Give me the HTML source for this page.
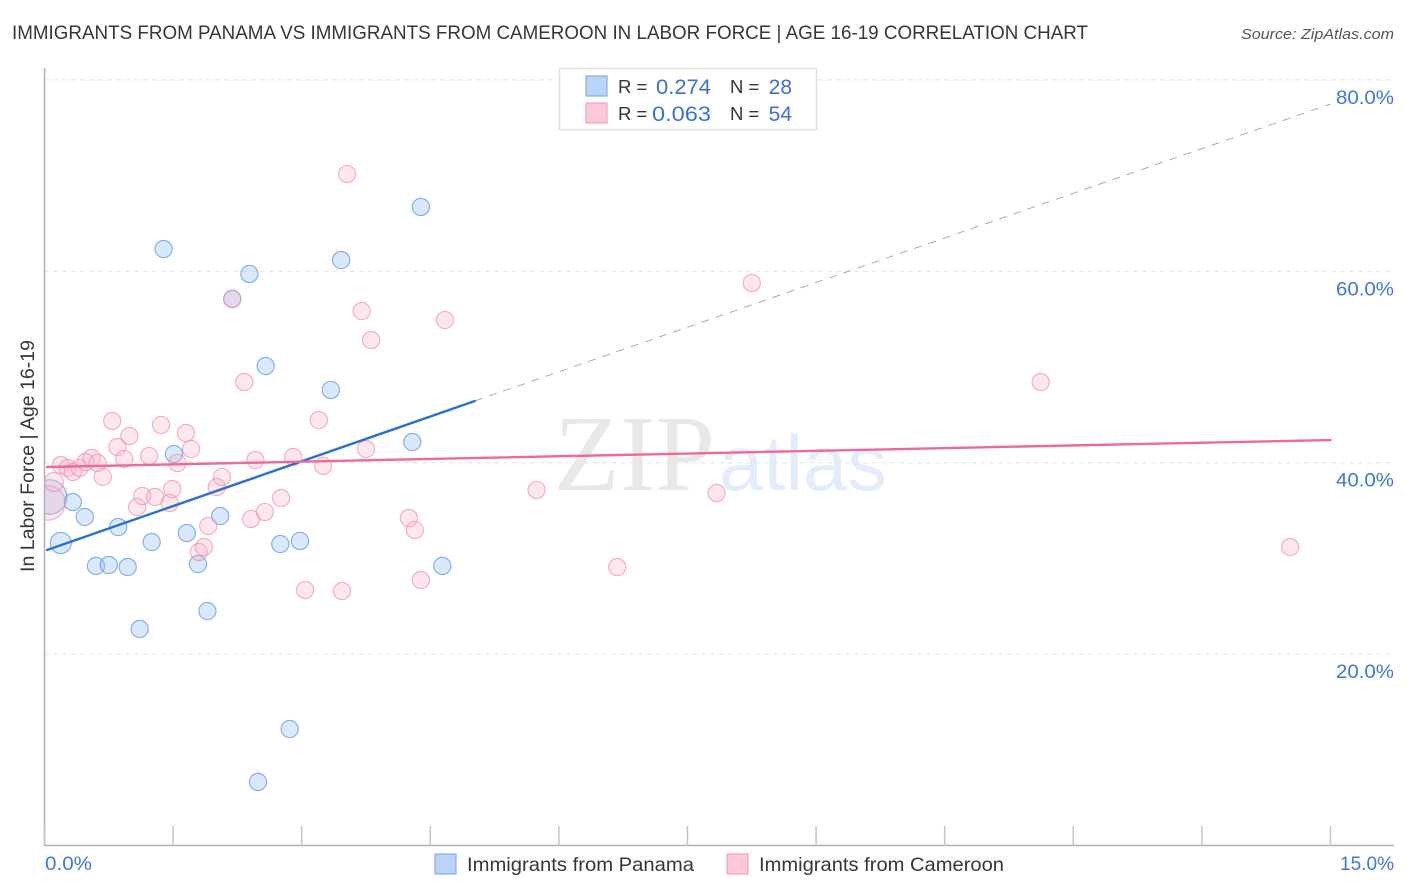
<!DOCTYPE html>
<html>
<head>
<meta charset="utf-8">
<style>
html,body{margin:0;padding:0;background:#fff;}
svg{display:block;font-family:"Liberation Sans",sans-serif;}
</style>
</head>
<body>
<svg id="chart" width="1406" height="892" viewBox="0 0 1406 892" xmlns="http://www.w3.org/2000/svg">
<defs><clipPath id="plotClip"><rect x="45" y="60" width="1349" height="786"/></clipPath></defs>
<text x="12" y="39" font-size="19.5" fill="#33373d" textLength="1076" lengthAdjust="spacingAndGlyphs">IMMIGRANTS FROM PANAMA VS IMMIGRANTS FROM CAMEROON IN LABOR FORCE | AGE 16-19 CORRELATION CHART</text>
<text x="1394" y="39" font-size="15" font-style="italic" fill="#555" text-anchor="end" textLength="153" lengthAdjust="spacingAndGlyphs">Source: ZipAtlas.com</text>
<g>
<text x="554" y="490" font-family="'Liberation Serif',serif" font-size="108" fill="#e8e8e8" textLength="161" lengthAdjust="spacingAndGlyphs">ZIP</text>
<text x="719" y="490" font-family="'Liberation Sans',sans-serif" font-size="78" fill="#e2ecfa" textLength="168" lengthAdjust="spacingAndGlyphs">atlas</text>
</g>
<g id="grid"></g>
<g id="axes"></g>
<g id="points" clip-path="url(#plotClip)"></g>
<g id="trends"></g>
<text transform="translate(34,456) rotate(-90)" font-size="19.5" fill="#33373d" text-anchor="middle" textLength="232" lengthAdjust="spacingAndGlyphs">In Labor Force | Age 16-19</text>
<g>
<rect x="559.5" y="68.5" width="257" height="61" fill="#fff" stroke="#e0e0e0" stroke-width="1.5"/>
<rect x="586" y="76" width="21" height="20" fill="#b8d4f7" stroke="#86aee5" stroke-width="1.2"/>
<rect x="586" y="103" width="21" height="20" fill="#fcc8d9" stroke="#f2a3bd" stroke-width="1.2"/>
<text x="618" y="93" font-size="18.5" fill="#33373d">R =</text>
<text x="711" y="94" font-size="21" fill="#3a72d2" text-anchor="end" textLength="55" lengthAdjust="spacingAndGlyphs">0.274</text>
<text x="730" y="93" font-size="18.5" fill="#33373d">N =</text>
<text x="792" y="94" font-size="21" fill="#3a72d2" text-anchor="end">28</text>
<text x="618" y="120" font-size="18.5" fill="#33373d">R =</text>
<text x="711" y="121" font-size="21" fill="#3a72d2" text-anchor="end" textLength="59" lengthAdjust="spacingAndGlyphs">0.063</text>
<text x="730" y="120" font-size="18.5" fill="#33373d">N =</text>
<text x="792" y="121" font-size="21" fill="#3a72d2" text-anchor="end">54</text>
</g>
<g>
<rect x="435" y="854" width="21" height="20" fill="#b8d4f7" stroke="#86aee5" stroke-width="1.2"/>
<text x="467" y="871" font-size="19.5" fill="#33373d" textLength="227" lengthAdjust="spacingAndGlyphs">Immigrants from Panama</text>
<rect x="727" y="854" width="21" height="20" fill="#fcc8d9" stroke="#f2a3bd" stroke-width="1.2"/>
<text x="759" y="871" font-size="19.5" fill="#33373d" textLength="245" lengthAdjust="spacingAndGlyphs">Immigrants from Cameroon</text>
</g>
</svg>
<script>
const yTicks = [20, 40, 60, 80];
const xTicks = [0, 1.5, 3, 4.5, 6, 7.5, 9, 10.5, 12, 13.5, 15];
const xLabels = ["0.0%", "15.0%"];

const panamaX = [0.06,0.19,0.33,0.47,0.60,0.75,0.97,0.86,1.11,1.25,1.39,1.51,1.66,1.79,1.90,2.05,2.19,2.39,2.49,2.58,2.75,2.86,2.98,3.34,3.46,4.29,4.39,4.64];
const panamaY = [36.42,31.61,35.89,34.33,29.21,29.31,29.10,33.28,22.62,31.71,62.33,40.91,32.65,29.41,24.50,34.43,57.11,59.72,6.64,50.10,31.50,12.17,31.82,47.60,61.18,42.16,66.72,29.21];
const panamaWeight = [4,1.5,1,1,1,1,1,1,1,1,1,1,1,1,1,1,1,1,1,1,1,1,1,1,1,1,1,1];

const cameroonX = [0.04,0.11,0.19,0.27,0.33,0.41,0.48,0.55,0.62,0.68,0.79,0.85,0.99,0.93,1.08,1.14,1.29,1.22,1.36,1.46,1.49,1.55,1.65,1.71,1.80,1.86,1.91,2.01,2.07,2.19,2.33,2.41,2.46,2.57,2.76,2.90,3.04,3.20,3.25,3.47,3.53,3.70,3.75,3.81,4.25,4.32,4.39,4.67,5.74,6.68,7.84,8.25,11.62,14.53];
const cameroonY = [35.79,37.98,39.76,39.45,39.03,39.45,40.07,40.49,39.97,38.51,44.36,41.64,42.79,40.39,35.37,36.52,36.42,40.70,43.94,35.79,37.25,39.97,43.10,41.43,30.67,31.19,33.39,37.46,38.51,57.11,48.43,34.12,40.28,34.85,36.31,40.60,26.70,44.46,39.66,26.59,70.17,55.85,41.43,52.82,34.22,32.97,27.74,54.91,37.15,29.10,36.83,58.78,48.43,31.19];
const cameroonWeight = [4,1.2,1,1,1,1,1,1,1,1,1,1,1,1,1,1,1,1,1,1,1,1,1,1,1,1,1,1,1,1,1,1,1,1,1,1,1,1,1,1,1,1,1,1,1,1,1,1,1,1,1,1,1,1];

const panamaTrendX = [0.03, 5.02, 15];
const panamaTrendY = [30.88, 46.45, 77.48];
const cameroonTrendX = [0.03, 15];
const cameroonTrendY = [39.55, 42.37];

const NS = 'http://www.w3.org/2000/svg';
const sx = v => 44.5 + v * 85.73;
const sy = v => 845.5 - v * 9.57;
const radius = w => 8.6 * Math.sqrt(w);

function make(parent, tag, attrs) {
  const el = document.createElementNS(NS, tag);
  for (const k in attrs) el.setAttribute(k, attrs[k]);
  parent.appendChild(el);
  return el;
}

const grid = document.getElementById('grid');
const axes = document.getElementById('axes');
const points = document.getElementById('points');
const trends = document.getElementById('trends');

yTicks.forEach(t => {
  const line = make(grid, 'line', {x1: 44, x2: 1394, y1: sy(t), y2: sy(t), stroke: '#e4e4e4', 'stroke-width': 1, 'stroke-dasharray': '5 4'});
  
  
  const label = make(axes, 'text', {x: 1394, y: sy(t) + 24, 'font-size': 19.5, fill: '#3f77d4', 'text-anchor': 'end', textLength: 58, lengthAdjust: 'spacingAndGlyphs'});
  label.textContent = t.toFixed(1) + '%';
  
  
});

const yAxis = make(axes, 'line', {x1: 44.5, x2: 44.5, y1: 68, y2: 846, stroke: '#b0b0b0', 'stroke-width': 1.5});


const xAxis = make(axes, 'line', {x1: 44, x2: 1394, y1: 845.5, y2: 845.5, stroke: '#b0b0b0', 'stroke-width': 1.5});



xTicks.forEach(t => {
  const tick = make(axes, 'line', {x1: sx(t), x2: sx(t), y1: 826, y2: 846, stroke: '#c4c4c4', 'stroke-width': 1.5});
  
  
});

const x0Label = make(axes, 'text', {x: 45, y: 870, 'font-size': 19.5, fill: '#3f77d4', textLength: 47, lengthAdjust: 'spacingAndGlyphs'});
x0Label.textContent = xLabels[0];


const x1Label = make(axes, 'text', {x: 1394, y: 870, 'font-size': 19.5, fill: '#3f77d4', 'text-anchor': 'end', textLength: 54, lengthAdjust: 'spacingAndGlyphs'});
x1Label.textContent = xLabels[1];



panamaX.forEach((v, i) => {
  const c = make(points, 'circle', {cx: sx(v), cy: sy(panamaY[i]), r: radius(panamaWeight[i]), fill: 'rgba(150,192,242,0.36)', stroke: 'rgba(90,148,224,0.75)', 'stroke-width': 1.1});
  
  
});
cameroonX.forEach((v, i) => {
  const c = make(points, 'circle', {cx: sx(v), cy: sy(cameroonY[i]), r: radius(cameroonWeight[i]), fill: 'rgba(248,180,202,0.32)', stroke: 'rgba(236,140,172,0.7)', 'stroke-width': 1.1});
  
  
});

const pSolid = make(trends, 'line', {x1: sx(panamaTrendX[0]), y1: sy(panamaTrendY[0]), x2: sx(panamaTrendX[1]), y2: sy(panamaTrendY[1]), stroke: '#2a6fd6', 'stroke-width': 2.4, 'stroke-linecap': 'round'});


const pDash = make(trends, 'line', {x1: sx(panamaTrendX[1]), y1: sy(panamaTrendY[1]), x2: sx(panamaTrendX[2]), y2: sy(panamaTrendY[2]), stroke: '#7c9ad6', 'stroke-width': 0.8, 'stroke-dasharray': '8 7'});


const cSolid = make(trends, 'line', {x1: sx(cameroonTrendX[0]), y1: sy(cameroonTrendY[0]), x2: sx(cameroonTrendX[1]), y2: sy(cameroonTrendY[1]), stroke: '#ec6a9a', 'stroke-width': 2.4, 'stroke-linecap': 'round'});


</script>
</body>
</html>
